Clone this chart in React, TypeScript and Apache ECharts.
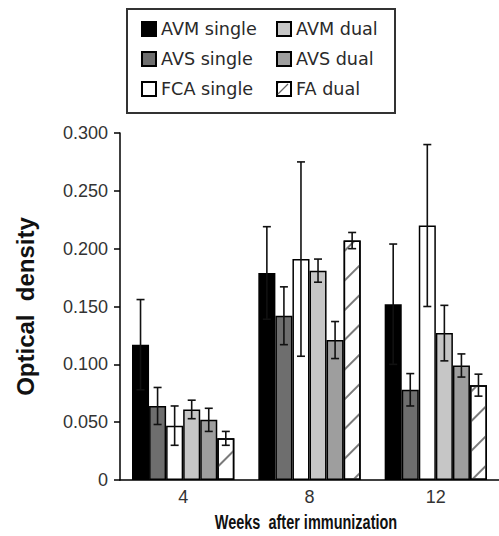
import React, { useEffect, useRef } from "react";
import * as echarts from "echarts";

const categories = ["4", "8", "12"];
const seriesNames = ["AVM single", "AVS single", "FCA single", "AVM dual", "AVS dual", "FA dual"];
const avmSingle = [0.117, 0.179, 0.152];
const avmSingleErr = [0.039, 0.040, 0.052];
const avsSingle = [0.064, 0.142, 0.078];
const avsSingleErr = [0.016, 0.025, 0.014];
const fcaSingle = [0.047, 0.191, 0.220];
const fcaSingleErr = [0.017, 0.084, 0.070];
const avmDual = [0.061, 0.181, 0.127];
const avmDualErr = [0.008, 0.010, 0.024];
const avsDual = [0.052, 0.121, 0.099];
const avsDualErr = [0.010, 0.016, 0.010];
const faDual = [0.036, 0.207, 0.082];
const faDualErr = [0.006, 0.007, 0.0095];
const xTitle = "Weeks  after immunization";
const yTitle = "Optical  density";

const values = [avmSingle, avsSingle, fcaSingle, avmDual, avsDual, faDual];
const errors = [avmSingleErr, avsSingleErr, fcaSingleErr, avmDualErr, avsDualErr, faDualErr];
const fills = ["#000000", "#6e6e6e", "#ffffff", "#c6c6c6", "#9e9e9e", "#ffffff"];

const CAT_GAP = 0.19;

export default function App() {
  const ref = useRef<HTMLDivElement>(null);
  useEffect(() => {
    if (!ref.current) return;
    const chart = echarts.init(ref.current, null, { renderer: "svg" });
    const n = seriesNames.length;
    const barSeries = seriesNames.map((name, i) => ({
      name,
      type: "bar",
      data: values[i],
      barGap: "0%",
      barCategoryGap: CAT_GAP * 100 + "%",
      itemStyle: {
        color: fills[i],
        borderColor: "#000",
        borderWidth: 1.5,
        ...(i === 5
          ? {
              decal: {
                symbol: "rect",
                symbolSize: 1,
                color: "#7a7a7a",
                dashArrayX: [1, 0],
                dashArrayY: [1.5, 19],
                rotation: -Math.PI / 4,
              },
            }
          : {}),
      },
      z: 2,
    }));
    const errData: number[][] = [];
    for (let i = 0; i < n; i++) {
      for (let c = 0; c < categories.length; c++) {
        errData.push([c, values[i][c], errors[i][c], i]);
      }
    }
    const errSeries = {
      type: "custom",
      name: "err",
      z: 5,
      data: errData,
      encode: { x: 0, y: 1 },
      renderItem: (params: any, api: any) => {
        const c = api.value(0);
        const v = api.value(1);
        const e = api.value(2);
        const idx = api.value(3);
        const catW = api.size([1, 0])[0];
        const barW = (catW * (1 - CAT_GAP)) / n;
        const cx = api.coord([c, 0])[0] + (idx - (n - 1) / 2) * barW;
        const yT = api.coord([c, v + e])[1];
        const yB = api.coord([c, v - e])[1];
        const hw = 4;
        const st = { stroke: "#111", lineWidth: 1.6 };
        return {
          type: "group",
          children: [
            { type: "line", shape: { x1: cx, y1: yT, x2: cx, y2: yB }, style: st },
            { type: "line", shape: { x1: cx - hw, y1: yT, x2: cx + hw, y2: yT }, style: st },
            { type: "line", shape: { x1: cx - hw, y1: yB, x2: cx + hw, y2: yB }, style: st },
          ],
        };
      },
    };
    const legendCommon = {
      orient: "vertical",
      top: 19,
      padding: 0,
      itemWidth: 14,
      itemHeight: 14,
      itemGap: 10,
      icon: "rect",
      selectedMode: false,
      textStyle: { fontFamily: "'DejaVu Sans', sans-serif", fontSize: 17.6, color: "#2a2a2a", lineHeight: 20 },
    };
    chart.setOption({
      animation: false,
      backgroundColor: "#fff",
      legend: [
        { ...legendCommon, left: 141, data: seriesNames.slice(0, 3) },
        { ...legendCommon, left: 276, data: seriesNames.slice(3) },
      ],
      graphic: [
        {
          type: "rect",
          shape: { x: 127, y: 9, width: 268, height: 104 },
          style: { fill: "none", stroke: "#333", lineWidth: 2 },
        },
        {
          type: "line",
          z: 100,
          shape: { x1: 278, y1: 94, x2: 288, y2: 84 },
          style: { stroke: "#666", lineWidth: 1.2 },
        },
        {
          type: "text",
          x: 306,
          y: 522,
          scaleX: 0.69,
          style: {
            text: xTitle,
            fontFamily: "'Liberation Sans', sans-serif",
            fontWeight: "bold",
            fontSize: 21,
            fill: "#111",
            align: "center",
            verticalAlign: "middle",
          },
        },
      ],
      grid: { left: 120, top: 133, width: 382, height: 347 },
      xAxis: {
        type: "category",
        data: categories,
        axisLine: { lineStyle: { color: "#000", width: 1.5 } },
        axisTick: { length: 6, lineStyle: { color: "#000", width: 1.5 } },
        axisLabel: {
          margin: 8,
          fontFamily: "'Liberation Sans', sans-serif",
          fontSize: 18,
          color: "#333",
        },
      },
      yAxis: {
        type: "value",
        min: 0,
        max: 0.3,
        interval: 0.05,
        name: yTitle,
        nameLocation: "middle",
        nameGap: 83,
        nameTextStyle: {
          fontFamily: "'Liberation Sans', sans-serif",
          fontWeight: "bold",
          fontSize: 24,
          color: "#111",
        },
        splitLine: { show: false },
        axisLine: { show: true, lineStyle: { color: "#000", width: 1.5 } },
        axisTick: { show: true, length: 6, lineStyle: { color: "#000", width: 1.5 } },
        axisLabel: {
          margin: 12,
          fontFamily: "'Liberation Sans', sans-serif",
          fontSize: 18,
          color: "#333",
          formatter: (v: number) => (v === 0 ? "0" : v.toFixed(3)),
        },
      },
      series: [...barSeries, errSeries],
    });
    return () => chart.dispose();
  }, []);
  return (
    <div
      ref={ref}
      style={{ position: "absolute", left: 0, top: 0, width: 499, height: 536 }}
    />
  );
}
